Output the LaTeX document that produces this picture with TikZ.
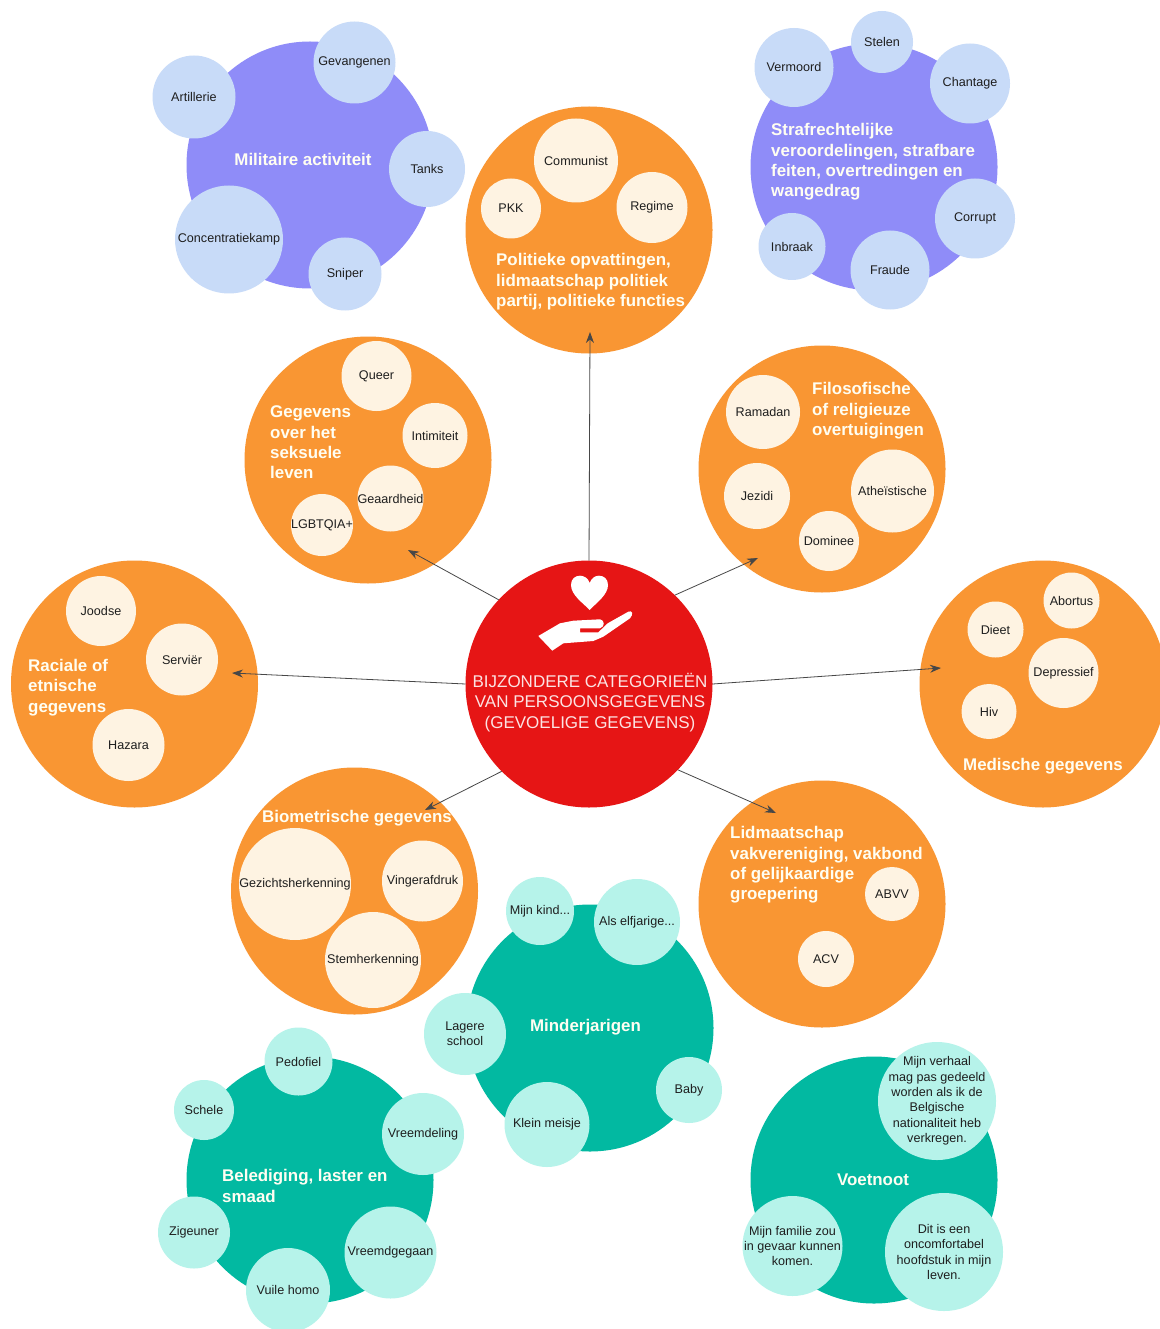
\documentclass[tikz,border=0pt]{standalone}
\usepackage{fontspec}
\setmainfont{Liberation Sans}
\usetikzlibrary{arrows.meta}
\definecolor{oranje}{HTML}{F99633}
\definecolor{crème}{HTML}{FEF3E2}
\definecolor{paars}{HTML}{8F8CF8}
\definecolor{lblauw}{HTML}{C8DBF8}
\definecolor{groen}{HTML}{02B9A1}
\definecolor{lgroen}{HTML}{B6F3EA}
\definecolor{rood}{HTML}{E61515}
\definecolor{inkt}{HTML}{1E1E1E}
\tikzset{
  disc/.style={circle,inner sep=0pt,outer sep=0pt,minimum size=2*#1 pt},
  big/.style={disc=123.5},
  smalltext/.style={align=center,inner sep=0pt,text=inkt,font=\fontsize{12.6}{15.4}\selectfont},
  headtext/.style={align=left,inner sep=0pt,text=white!95!yellow,font=\fontsize{16.9}{20.4}\selectfont\bfseries},
  conn/.style={draw=black!72,line width=0.8pt,-{Stealth[length=11pt,width=8pt]}},
}
% name, x, y, radius, fill, text
\newcommand{\bub}[6]{\node[disc=#4,fill=#5,label={[smalltext]center:{#6}}] (#1) at (#2,#3) {};}
\begin{document}
\begin{tikzpicture}[x=1pt,y=-1pt]
\useasboundingbox (0,0) rectangle (1159,1329);
\fill[white] (0,0) rectangle (1159,1329);
% large discs
\node[big,fill=paars] (militair) at (310,165) {};
\node[big,fill=paars] (straf) at (874,167) {};
\node[big,fill=oranje] (politiek) at (589,230) {};
\node[big,fill=oranje] (seksueel) at (368,460) {};
\node[big,fill=oranje] (filosofisch) at (822,469) {};
\node[big,fill=oranje] (raciaal) at (134.5,684) {};
\node[big,fill=oranje] (medisch) at (1043,684) {};
\node[big,fill=oranje] (biometrisch) at (354.5,891) {};
\node[big,fill=oranje] (lidmaatschap) at (822,904) {};
\node[big,fill=groen] (minderjarig) at (590,1028) {};
\node[big,fill=groen] (belediging) at (310,1180) {};
\node[big,fill=groen] (voetnoot) at (874,1180) {};
\node[big,fill=rood] (kern) at (589,684) {};
% militaire activiteit
\bub{gevangenen}{354.5}{62.5}{41}{lblauw}{Gevangenen}
\bub{artillerie}{194}{97}{41.5}{lblauw}{Artillerie}
\bub{tanks}{427}{169}{38}{lblauw}{Tanks}
\bub{concentratiekamp}{229}{239.5}{54}{lblauw}{Concentratiekamp}
\bub{sniper}{345}{274}{36.5}{lblauw}{Sniper}
% strafrechtelijk
\bub{stelen}{882}{42}{31}{lblauw}{Stelen}
\bub{vermoord}{794}{67.5}{39.5}{lblauw}{Vermoord}
\bub{chantage}{970}{83.5}{40}{lblauw}{Chantage}
\bub{corrupt}{975}{218.5}{40}{lblauw}{Corrupt}
\bub{inbraak}{792}{246.5}{33.5}{lblauw}{Inbraak}
\bub{fraude}{890}{270}{39.5}{lblauw}{Fraude}
% politiek
\bub{communist}{576}{160.5}{42}{crème}{Communist}
\bub{pkk}{511}{208.5}{30}{crème}{PKK}
\bub{regime}{652}{207.5}{35.5}{crème}{Regime}
% seksueel
\bub{queer}{376.5}{376}{35}{crème}{Queer}
\bub{intimiteit}{435}{435.5}{32.5}{crème}{Intimiteit}
\bub{geaardheid}{390.5}{498.5}{33}{crème}{Geaardheid}
\bub{lgbtqia}{322}{525}{31}{crème}{LGBTQIA+}
% filosofisch
\bub{ramadan}{763}{412}{37}{crème}{Ramadan}
\bub{jezidi}{757}{496}{33}{crème}{Jezidi}
\bub{atheistisch}{892.5}{491}{41.5}{crème}{Atheïstische}
\bub{dominee}{829}{541}{30}{crème}{Dominee}
% raciaal
\bub{joodse}{101}{611}{35}{crème}{Joodse}
\bub{servier}{182}{659.5}{36}{crème}{Serviër}
\bub{hazara}{128.5}{745}{36}{crème}{Hazara}
% medisch
\bub{abortus}{1071.5}{600.5}{28}{crème}{Abortus}
\bub{dieet}{995.5}{629.5}{28}{crème}{Dieet}
\bub{depressief}{1063.5}{673}{35}{crème}{Depressief}
\bub{hiv}{989}{711.5}{27.5}{crème}{Hiv}
% biometrisch
\bub{gezicht}{295}{884}{56}{crème}{Gezichtsherkenning}
\bub{vinger}{422.5}{881}{40.5}{crème}{Vingerafdruk}
\bub{stem}{373}{960}{48}{crème}{Stemherkenning}
% lidmaatschap
\bub{abvv}{892}{894}{27}{crème}{ABVV}
\bub{acv}{826}{959}{28}{crème}{ACV}
% minderjarigen
\bub{kind}{540}{911}{34}{lgroen}{Mijn kind...}
\bub{elfjarige}{637}{922}{43}{lgroen}{Als elfjarige...}
\bub{lagere}{465}{1034}{41}{lgroen}{Lagere\\school}
\bub{meisje}{547}{1124.5}{42.5}{lgroen}{Klein meisje}
\bub{baby}{689}{1090}{33}{lgroen}{Baby}
% belediging
\bub{pedofiel}{298.5}{1061.5}{34}{lgroen}{Pedofiel}
\bub{schele}{204}{1110}{30}{lgroen}{Schele}
\bub{vreemdeling}{423}{1134}{41}{lgroen}{Vreemdeling}
\bub{zigeuner}{194}{1232.5}{36}{lgroen}{Zigeuner}
\bub{vreemdgegaan}{390.5}{1252.5}{46}{lgroen}{Vreemdgegaan}
\bub{homo}{288}{1290}{42}{lgroen}{Vuile homo}
% voetnoot
\bub{verhaal}{937}{1101}{59}{lgroen}{Mijn verhaal\\mag pas gedeeld\\worden als ik de\\Belgische\\nationaliteit heb\\verkregen.}
\bub{familie}{792.5}{1246}{50}{lgroen}{Mijn familie zou\\in gevaar kunnen\\komen.}
\bub{hoofdstuk}{944}{1252}{59}{lgroen}{Dit is een\\oncomfortabel\\hoofdstuk in mijn\\leven.}
% headings
\node[headtext,anchor=center] (tmil) at (303,159.5) {Militaire activiteit};
\node[headtext,anchor=west] (tstraf) at (771,162) {Strafrechtelijke\\veroordelingen, strafbare\\feiten, overtredingen en\\wangedrag};
\node[headtext,anchor=west] (tpol) at (496,282) {Politieke opvattingen,\\lidmaatschap politiek\\partij, politieke functies};
\node[headtext,anchor=west] (tsek) at (270,442.5) {Gegevens\\over het\\seksuele\\leven};
\node[headtext,anchor=west] (tfil) at (812,411) {Filosofische\\of religieuze\\overtuigingen};
\node[headtext,anchor=west] (trac) at (28,687.5) {Raciale of\\etnische\\gegevens};
\node[headtext,anchor=center] (tmed) at (1043,766) {Medische gegevens};
\node[headtext,anchor=center] (tbio) at (357,818) {Biometrische gegevens};
\node[headtext,anchor=west] (tlid) at (730,865) {Lidmaatschap\\vakvereniging, vakbond\\of gelijkaardige\\groepering};
\node[headtext,anchor=center] (tmin) at (585.5,1027) {Minderjarigen};
\node[headtext,anchor=west] (tbel) at (222,1186) {Belediging, laster en\\smaad};
\node[headtext,anchor=center] (tvoe) at (873,1180) {Voetnoot};
\node[align=center,inner sep=0pt,text=white!88!rood,font=\fontsize{17}{20.5}\selectfont] (tkern) at (590,702.5) {BIJZONDERE CATEGORIEËN\\VAN PERSOONSGEGEVENS\\(GEVOELIGE GEGEVENS)};
% icon
\fill[white] (589.7,610) .. controls (583,603) and (571,595) .. (571,585)
  .. controls (571,579) and (575,575.7) .. (580,575.7)
  .. controls (584,575.7) and (588,578) .. (589.7,583)
  .. controls (591.5,578) and (595,575.7) .. (599,575.7)
  .. controls (604,575.7) and (608,579) .. (608,585)
  .. controls (608,595) and (596,603) .. (589.7,610) -- cycle;
\fill[white] (538.3,636) -- (560,623.3) -- (573.3,620.7) -- (600,619.3)
  .. controls (605,620) and (605,627) .. (600,628.3)
  -- (580,628.3) -- (580,632.3) -- (598.3,632.3) -- (607.7,623.3) -- (628.3,611.7)
  .. controls (632,610) and (634,614) .. (630,618.3)
  -- (603.3,636.7) -- (593.3,641) -- (563.3,643.3) -- (552.3,650.7) -- cycle;
% arrow ends
\coordinate (epol) at (590,332);
\coordinate (esek) at (408,550);
\coordinate (efil) at (758,558);
\coordinate (erac) at (232,673);
\coordinate (emed) at (941,668);
\coordinate (ebio) at (425,810);
\coordinate (elid) at (776,813);
\draw[conn] (kern.north) -- (epol);
\draw[conn] (kern.137) -- (esek);
\draw[conn] (kern.46) -- (efil);
\draw[conn] (kern.west) -- (erac);
\draw[conn] (kern.east) -- (emed);
\draw[conn] (kern.225.6) -- (ebio);
\draw[conn] (kern.-44.7) -- (elid);
\end{tikzpicture}
\end{document}
